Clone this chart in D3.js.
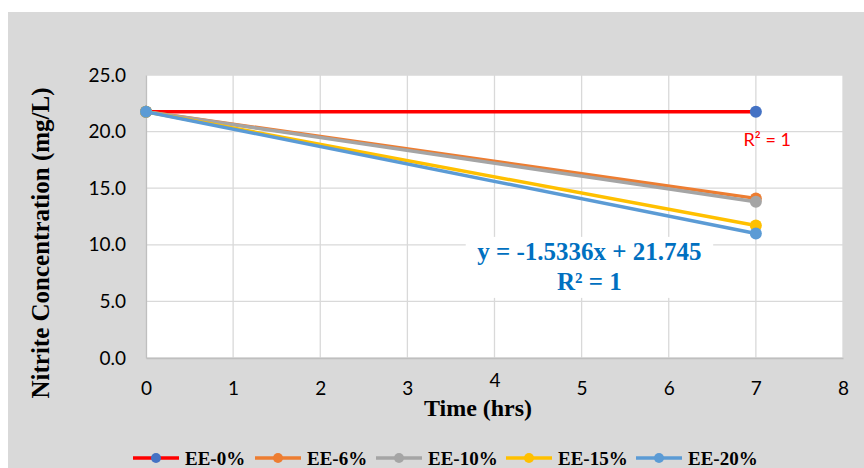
<!DOCTYPE html>
<html>
<head>
<meta charset="utf-8">
<script src="https://cdn.jsdelivr.net/npm/d3@7"></script>
<style>
  body { margin: 0; background: #fff; }
  svg { display: block; }
</style>
</head>
<body>
<svg width="864" height="468"></svg>
<script>
// ---- Data
const timeHrs = [0, 7];
const seriesNames = ['EE-0%', 'EE-6%', 'EE-10%', 'EE-15%', 'EE-20%'];
const ee0 = [21.75, 21.75];
const ee6 = [21.75, 14.1];
const ee10 = [21.75, 13.8];
const ee15 = [21.75, 11.7];
const ee20 = [21.75, 11.0];
const xTicks = [0, 1, 2, 3, 4, 5, 6, 7, 8];
const yTicks = [0, 5, 10, 15, 20, 25];
const trendText = ['y = -1.5336x + 21.745', 'R² = 1'];

const lineColors = ['#ff0000', '#ed7d31', '#a5a5a5', '#ffc000', '#5b9bd5'];
const markerColors = ['#4472c4', '#ed7d31', '#a5a5a5', '#ffc000', '#5b9bd5'];

const series = [ee0, ee6, ee10, ee15, ee20].map((vals, i) => ({
    name: seriesNames[i],
    line: lineColors[i],
    marker: markerColors[i],
    points: vals.map((v, j) => ({ x: timeHrs[j], y: v }))
}));

const svg = d3.select('svg');
const margens = { left: 146, right: 21, top: 75, bottom: 110 };
const width = 864 - margens.left - margens.right;
const height = 468 - margens.top - margens.bottom;
const tickFont = 'Lato, "Open Sans", sans-serif';
const serif = '"Liberation Serif", "Times New Roman", serif';

// chart background
svg.append('rect')
    .attr('x', 8).attr('y', 12)
    .attr('width', 856).attr('height', 456)
    .attr('fill', '#d9d9d9');

const g = svg.append('g')
    .attr('transform', `translate(${margens.left}, ${margens.top})`);

// ---- Escalas
const mapX = d3.scaleLinear().domain([0, 8]).range([0, width]);
const mapY = d3.scaleLinear().domain([0, 25]).range([height, 0]);

g.append('rect')
    .attr('width', width).attr('height', height)
    .attr('fill', '#fff');

// grid
g.selectAll('.gx').data(xTicks).join('line')
    .attr('x1', d => mapX(d)).attr('x2', d => mapX(d))
    .attr('y1', 0).attr('y2', height)
    .attr('stroke', '#d9d9d9').attr('stroke-width', 1.3);
g.selectAll('.gy').data(yTicks).join('line')
    .attr('x1', 0).attr('x2', width)
    .attr('y1', d => mapY(d)).attr('y2', d => mapY(d))
    .attr('stroke', '#d9d9d9').attr('stroke-width', 1.3);

// equation label box (covers grid)
g.append('rect')
    .attr('x', mapX(3.67)).attr('y', mapY(10.7))
    .attr('width', mapX(2.84)).attr('height', 61)
    .attr('fill', '#fff');

// ---- Eixos
const xAxis = d3.axisBottom(mapX).tickValues(xTicks).tickSize(0).tickPadding(24).tickFormat(d3.format('d'));
g.append('g')
    .attr('transform', `translate(0, ${height})`)
    .call(xAxis)
    .call(a => a.select('.domain').attr('stroke', '#bfbfbf').attr('stroke-width', 1.3))
    .selectAll('text')
    .attr('dy', d => d === 4 ? '0.25em' : '0.71em') // label 4 is pushed up by the title
    .style('font-family', tickFont)
    .style('font-size', '19px')
    .style('fill', '#000');

const yAxis = d3.axisLeft(mapY).tickValues(yTicks).tickSize(0).tickPadding(20).tickFormat(d3.format('.1f'));
g.append('g')
    .call(yAxis)
    .call(a => a.select('.domain').attr('stroke', '#bfbfbf').attr('stroke-width', 1.3))
    .selectAll('text')
    .style('font-family', tickFont)
    .style('font-size', '19px')
    .style('fill', '#000');

// axis titles
svg.append('text')
    .attr('x', 478).attr('y', 416)
    .attr('text-anchor', 'middle')
    .style('font-family', serif)
    .style('font-weight', 'bold')
    .style('font-size', '24px')
    .text('Time (hrs)');

svg.append('text')
    .attr('transform', 'translate(49, 243) rotate(-90)')
    .attr('text-anchor', 'middle')
    .style('font-family', serif)
    .style('font-weight', 'bold')
    .style('font-size', '25px')
    .text('Nitrite Concentration (mg/L)');

// ---- Series
const line = d3.line().x(d => mapX(d.x)).y(d => mapY(d.y));
series.forEach(s => {
    g.append('path')
        .datum(s.points)
        .attr('d', line)
        .attr('fill', 'none')
        .attr('stroke', s.line)
        .attr('stroke-width', 3.5);
    g.selectAll(null).data(s.points).join('circle')
        .attr('cx', d => mapX(d.x))
        .attr('cy', d => mapY(d.y))
        .attr('r', 6)
        .attr('fill', s.marker);
});

// trendline labels
g.append('text')
    .attr('x', mapX(7.13)).attr('y', mapY(21.75) + 34)
    .attr('text-anchor', 'middle')
    .style('font-family', tickFont)
    .style('font-size', '18px')
    .style('fill', '#ff0000')
    .text('R² = 1');

g.selectAll('.eq').data(trendText).join('text')
    .attr('x', mapX(5.09))
    .attr('y', (d, i) => mapY(8.65) + i * 30)
    .attr('text-anchor', 'middle')
    .style('font-family', serif)
    .style('font-weight', 'bold')
    .style('font-size', '25px')
    .style('fill', '#0070c0')
    .text(d => d);

// ---- Legend
const legendX = [133, 255, 376, 506, 636];
const legend = svg.append('g').attr('transform', 'translate(0, 458)');
series.forEach((s, i) => {
    const lg = legend.append('g').attr('transform', `translate(${legendX[i]}, 0)`);
    lg.append('line')
        .attr('x1', 0).attr('x2', 46)
        .attr('stroke', s.line).attr('stroke-width', 3.5);
    lg.append('circle')
        .attr('cx', 23).attr('r', 5)
        .attr('fill', s.marker);
    lg.append('text')
        .attr('x', 52).attr('y', 7)
        .style('font-family', serif)
        .style('font-weight', 'bold')
        .style('font-size', '19px')
        .text(s.name);
});
</script>
</body>
</html>
